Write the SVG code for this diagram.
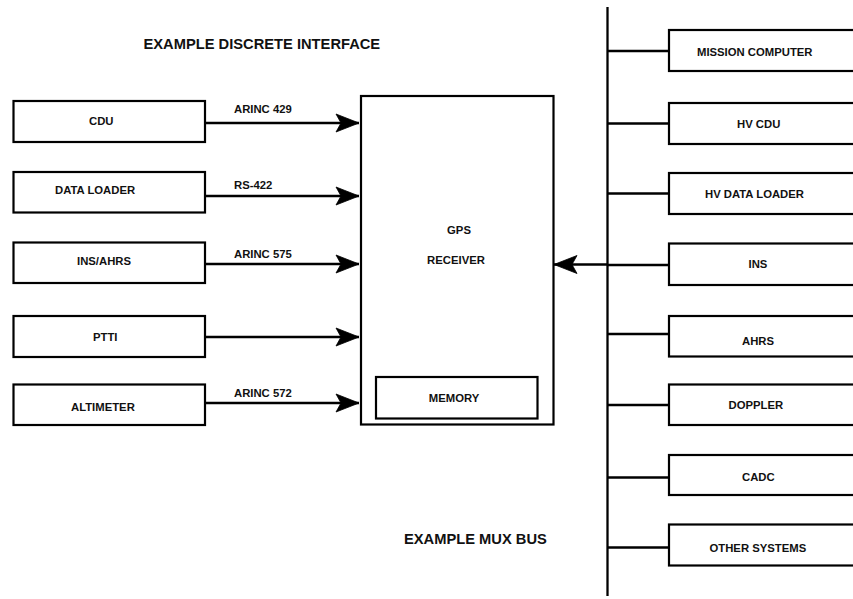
<svg xmlns="http://www.w3.org/2000/svg" width="853" height="599" viewBox="0 0 853 599">
<style>
.box{fill:#fff;stroke:#000;stroke-width:2.2}
.ln{fill:none;stroke:#000;stroke-width:2.3}
.t{font-family:"Liberation Sans",Arial,sans-serif;font-weight:bold;font-size:11.3px;fill:#111}
.h{font-family:"Liberation Sans",Arial,sans-serif;font-weight:bold;font-size:14.7px;fill:#111}
</style>
<defs>
<marker id="ah" markerUnits="userSpaceOnUse" markerWidth="28" markerHeight="22" refX="24" refY="11" orient="auto" viewBox="0 0 28 22">
<path d="M24,11 L1,2 L6,11 L1,20 Z" fill="#000" stroke="#000" stroke-width="0.8" stroke-linejoin="miter"/>
</marker>
</defs>
<rect width="853" height="599" fill="#fff"/>
<text class="h" x="143.5" y="48.5">EXAMPLE DISCRETE INTERFACE</text>
<text class="h" x="404" y="543.5">EXAMPLE MUX BUS</text>

<g id="connectors">
<line class="ln" x1="205" y1="123" x2="359" y2="123" marker-end="url(#ah)"/>
<line class="ln" x1="205" y1="196" x2="359" y2="196" marker-end="url(#ah)"/>
<line class="ln" x1="205" y1="264" x2="359" y2="264" marker-end="url(#ah)"/>
<line class="ln" x1="205" y1="337" x2="359" y2="337" marker-end="url(#ah)"/>
<line class="ln" x1="205" y1="403" x2="359" y2="403" marker-end="url(#ah)"/>
<line class="ln" x1="607" y1="264.5" x2="554" y2="264.5" marker-end="url(#ah)"/>
<line class="ln" x1="607.5" y1="7" x2="607.5" y2="596"/>
<line class="ln" x1="607" y1="51" x2="669" y2="51"/>
<line class="ln" x1="607" y1="123.5" x2="669" y2="123.5"/>
<line class="ln" x1="607" y1="193.5" x2="669" y2="193.5"/>
<line class="ln" x1="607" y1="265" x2="669" y2="265"/>
<line class="ln" x1="607" y1="334" x2="669" y2="334"/>
<line class="ln" x1="607" y1="405" x2="669" y2="405"/>
<line class="ln" x1="607" y1="477.5" x2="669" y2="477.5"/>
<line class="ln" x1="607" y1="547.5" x2="669" y2="547.5"/>
<text class="t" x="234" y="113">ARINC 429</text>
<text class="t" x="234" y="189">RS-422</text>
<text class="t" x="234" y="258">ARINC 575</text>
<text class="t" x="234" y="397">ARINC 572</text>
</g>

<g id="cdu"><rect class="box" x="13.5" y="101" width="191.5" height="41"/><text class="t" x="89" y="125">CDU</text></g>
<g id="data-loader"><rect class="box" x="13.5" y="172" width="191.5" height="40.5"/><text class="t" x="55" y="193.5">DATA LOADER</text></g>
<g id="ins-ahrs"><rect class="box" x="13.5" y="242.5" width="191.5" height="40.5"/><text class="t" x="77" y="264.5">INS/AHRS</text></g>
<g id="ptti"><rect class="box" x="13.5" y="316" width="191.5" height="41"/><text class="t" x="93" y="341">PTTI</text></g>
<g id="altimeter"><rect class="box" x="13.5" y="384.5" width="191.5" height="40.5"/><text class="t" x="71" y="411">ALTIMETER</text></g>

<g id="gps-receiver">
<rect class="box" x="361" y="96" width="192.5" height="328.5"/>
<text class="t" x="459" y="234" text-anchor="middle">GPS</text>
<text class="t" x="456" y="264" text-anchor="middle">RECEIVER</text>
</g>
<g id="memory"><rect class="box" x="376" y="377" width="161.5" height="41.5"/><text class="t" x="454" y="402" text-anchor="middle">MEMORY</text></g>

<g id="mission-computer"><rect class="box" x="669" y="30" width="190" height="41"/><text class="t" x="697" y="56">MISSION COMPUTER</text></g>
<g id="hv-cdu"><rect class="box" x="669" y="103" width="190" height="41"/><text class="t" x="737" y="128">HV CDU</text></g>
<g id="hv-data-loader"><rect class="box" x="669" y="173" width="190" height="41"/><text class="t" x="705" y="198">HV DATA LOADER</text></g>
<g id="ins"><rect class="box" x="669" y="243.5" width="190" height="41.5"/><text class="t" x="748.5" y="268">INS</text></g>
<g id="ahrs"><rect class="box" x="669" y="316" width="190" height="40.5"/><text class="t" x="742" y="345">AHRS</text></g>
<g id="doppler"><rect class="box" x="669" y="384.5" width="190" height="40.5"/><text class="t" x="728.5" y="408.5">DOPPLER</text></g>
<g id="cadc"><rect class="box" x="669" y="455" width="190" height="40"/><text class="t" x="742" y="481">CADC</text></g>
<g id="other-systems"><rect class="box" x="669" y="524.5" width="190" height="41"/><text class="t" x="709.5" y="552">OTHER SYSTEMS</text></g>
</svg>
